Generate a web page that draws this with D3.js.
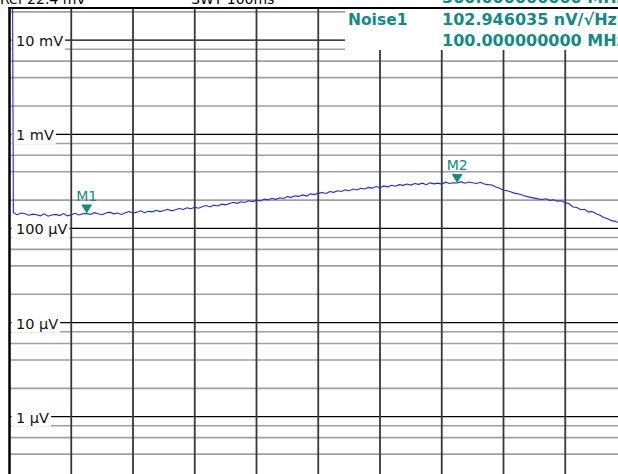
<!DOCTYPE html>
<html><head><meta charset="utf-8">
<script src="https://cdn.jsdelivr.net/npm/d3@7"></script>
<style>html,body{margin:0;padding:0;background:#fff;overflow:hidden}</style>
</head><body>
<svg id="c" width="618" height="474"></svg>
<script>
// ---- data ----
const freqMHz = [4,5,10,15,20,25,30,35,40,45,50,55,60,65,70,75,80,85,90,95,100,105,110,115,120,125,130,135,140,145,150,155,160,165,170,175,180,185,190,195,200,205,210,215,220,225,230,235,240,245,250,255,260,265,270,275,280,285,290,295,300,305,310,315,320,325,330,335,340,345,350,355,360,365,370,375,380,385,390,395,400,405,410,415,420,425,430,435,440,445,450,455,460,465,470,475,480,485,490,495,500,505,510,515,520,525,530,535,540,545,550,555,560,565,570,575,580,585,590,595,600,605,610,615,620,625,630,635,640,645,650,655,660,665,670,675,680,685,690,695,700,705,710,715,720,725,730,735,740,745,750,755,760,765,770,775,780,785,790];
const traceUV = [25000,
  147,140,146,143,138,142,140,136,143,135,139,141,137,144,136,140,145,139,143,144,
  141,147,143,140,146,149,143,146,141,147,151,145,149,154,147,152,150,156,151,155,
  160,154,158,163,159,166,162,168,164,171,175,169,177,173,181,178,184,190,185,192,
  189,197,193,200,196,205,201,209,204,212,208,218,214,222,219,227,221,233,229,236,
  241,235,247,242,251,247,257,252,262,256,267,263,273,268,279,271,283,277,288,281,
  292,287,296,289,300,294,303,292,305,298,303,296,310,300,306,304,314,302,311,306,
  300,309,297,292,289,276,268,255,251,244,236,232,225,219,214,210,206,203,207,199,
  202,195,197,188,183,169,167,158,160,150,151,143,138,131,127,121,119,114];
const decadeUV = [1, 10, 100, 1000, 10000];
const decadeLabels = ["1 µV", "10 µV", "100 µV", "1 mV", "10 mV"];
const minorFactors = [2, 4, 6, 8];
const markerNames = ["M1", "M2"];
const markerFreqMHz = [100, 580];
const headerTexts = ["Ref  22.4 mV", "SWT 100ms"];
const readoutName = "Noise1";
const readoutRows = ["300.000000000 MHz", "102.946035 nV/√Hz", "100.000000000 MHz"];

// ---- layout ----
const W = 618, H = 474;
const plotL = 9.5, plotT = 8;
const teal = "#138a84";
const svg = d3.select("#c");
svg.append("rect").attr("width", W).attr("height", H).attr("fill", "#fff");

const x = d3.scaleLinear().domain([0, 800]).range([plotL, 627]);
const y = d3.scaleLog().domain([1, 10000]).range([416.7, 40.2]);

// minor horizontal lines
const minorVals = [];
[0.1, 1, 10, 100, 1000, 10000].forEach(d => minorFactors.forEach(k => minorVals.push(d * k)));
svg.append("g").selectAll("line").data(minorVals.filter(v => y(v) > plotT + 2 && y(v) < H + 5))
  .join("line").attr("x1", plotL).attr("x2", W).attr("y1", d => y(d)).attr("y2", d => y(d))
  .attr("stroke", "#a0a0a0").attr("stroke-width", 1.6);

// major horizontal lines
svg.append("g").selectAll("line").data(decadeUV).join("line")
  .attr("x1", plotL).attr("x2", W).attr("y1", d => y(d)).attr("y2", d => y(d))
  .attr("stroke", "#000").attr("stroke-width", 1.3);

// vertical grid lines
svg.append("g").selectAll("line").data(d3.range(80, 800, 80)).join("line")
  .attr("x1", d => x(d)).attr("x2", d => x(d)).attr("y1", plotT).attr("y2", H)
  .attr("stroke", "#383838").attr("stroke-width", 1.8);

// level labels with white boxes
const lab = svg.append("g");
decadeUV.forEach((v, i) => {
  const g = lab.append("g");
  const t = g.append("text").attr("x", 16).attr("y", y(v) + 6)
    .attr("font-family", "DejaVu Sans").attr("font-size", "14.5px").attr("fill", "#111")
    .text(decadeLabels[i]);
  const w = t.node().getComputedTextLength();
  g.insert("rect", "text").attr("x", plotL + 2).attr("y", y(v) - 10)
    .attr("width", 16 + w + 2 - plotL - 2).attr("height", 20).attr("fill", "#fff");
});

// trace
const clip = svg.append("clipPath").attr("id", "pc");
clip.append("rect").attr("x", plotL).attr("y", plotT + 1).attr("width", W).attr("height", H);
const line = d3.line().x((d, i) => x(freqMHz[i])).y(d => y(d));
svg.append("path").datum(traceUV).attr("clip-path", "url(#pc)")
  .attr("d", line).attr("fill", "none").attr("stroke", "#1f27e6").attr("stroke-width", 1.1);

// markers
markerNames.forEach((name, i) => {
  const f = markerFreqMHz[i];
  const idx = freqMHz.indexOf(f);
  const mx = x(f), my = y(traceUV[idx]);
  svg.append("path").attr("d", `M${mx - 5.5},${my - 9}L${mx + 5.5},${my - 9}L${mx},${my}Z`).attr("fill", teal);
  svg.append("text").attr("x", mx).attr("y", my - 13).attr("text-anchor", "middle")
    .attr("font-family", "DejaVu Sans").attr("font-size", "14px").attr("fill", teal).text(name);
});

// readout box
svg.append("rect").attr("x", 345).attr("y", plotT + 1).attr("width", 300).attr("height", 41).attr("fill", "#fff");
const tf = "DejaVu Sans";
svg.append("text").attr("x", 348).attr("y", 25).attr("font-family", tf).attr("font-weight", "bold")
  .attr("font-size", "15.5px").attr("fill", teal).text(readoutName);
readoutRows.forEach((r, i) => {
  svg.append("text").attr("x", 442).attr("y", [3, 25, 46][i]).attr("font-family", tf).attr("font-weight", "bold")
    .attr("font-size", "16px").attr("fill", teal).text(r);
});

// frame
svg.append("line").attr("x1", plotL - 1).attr("x2", W).attr("y1", plotT).attr("y2", plotT).attr("stroke", "#000").attr("stroke-width", 2);
svg.append("line").attr("x1", plotL).attr("x2", plotL).attr("y1", plotT - 1).attr("y2", H).attr("stroke", "#000").attr("stroke-width", 2.5);

// header (cut off at top)
svg.append("text").attr("x", 0).attr("y", 4).attr("font-family", tf).attr("font-size", "14px").attr("fill", "#000").text(headerTexts[0]);
svg.append("text").attr("x", 191).attr("y", 4).attr("font-family", tf).attr("font-size", "14px").attr("fill", "#000").text(headerTexts[1]);
</script>
</body></html>
